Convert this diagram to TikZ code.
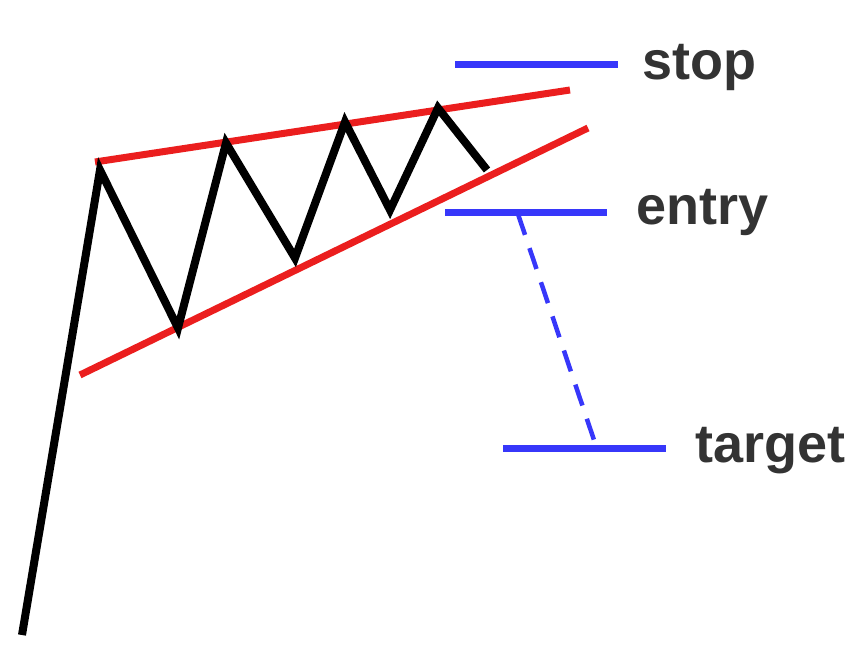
\documentclass[tikz,border=0pt]{standalone}
\usepackage{fontspec}
\setmainfont{Liberation Sans}
\definecolor{myblue}{RGB}{55,55,250}
\definecolor{myred}{RGB}{235,30,30}
\tikzset{
  price/.style={black,line width=8pt,line join=miter},
  trend/.style={myred,line width=7pt},
  level/.style={myblue,line width=7pt},
  move/.style={myblue,line width=4.5pt,dash pattern=on 22pt off 14pt},
  lbl/.style={anchor=base west,inner sep=0pt,font=\fontsize{54}{60}\selectfont\bfseries,text=black!80}
}
\begin{document}
\begin{tikzpicture}[x=1pt,y=-1pt]
\useasboundingbox (0,0) rectangle (862,650);
% zigzag points
\coordinate (p0) at (22,635);
\coordinate (p1) at (100,170);
\coordinate (p2) at (178,328);
\coordinate (p3) at (226,143);
\coordinate (p4) at (295,258);
\coordinate (p5) at (345,122);
\coordinate (p6) at (390,210);
\coordinate (p7) at (438,108);
\coordinate (p8) at (487,170);
% trend lines
\coordinate (u1) at (95,162);
\coordinate (u2) at (570,90);
\coordinate (l1) at (80,375);
\coordinate (l2) at (588,128);
\draw[trend] (u1) -- (u2);
\draw[trend] (l1) -- (l2);
\draw[price] (p0) -- (p1) -- (p2) -- (p3) -- (p4) -- (p5) -- (p6) -- (p7) -- (p8);
% levels
\coordinate (s1) at (455,65);
\coordinate (s2) at (618,65);
\coordinate (e1) at (445,212);
\coordinate (e2) at (607,212);
\coordinate (t1) at (503,448);
\coordinate (t2) at (666,448);
\coordinate (d1) at (518,214);
\coordinate (d2) at (596,446);
\draw[level] (s1) -- (s2);
\draw[level] (e1) -- (e2);
\draw[level] (t1) -- (t2);
\draw[move] (d1) -- (d2);
\node[lbl] (stop) at (642,80) {stop};
\node[lbl] (entry) at (636,224) {entry};
\node[lbl] (target) at (695,462) {target};
\end{tikzpicture}
\end{document}
